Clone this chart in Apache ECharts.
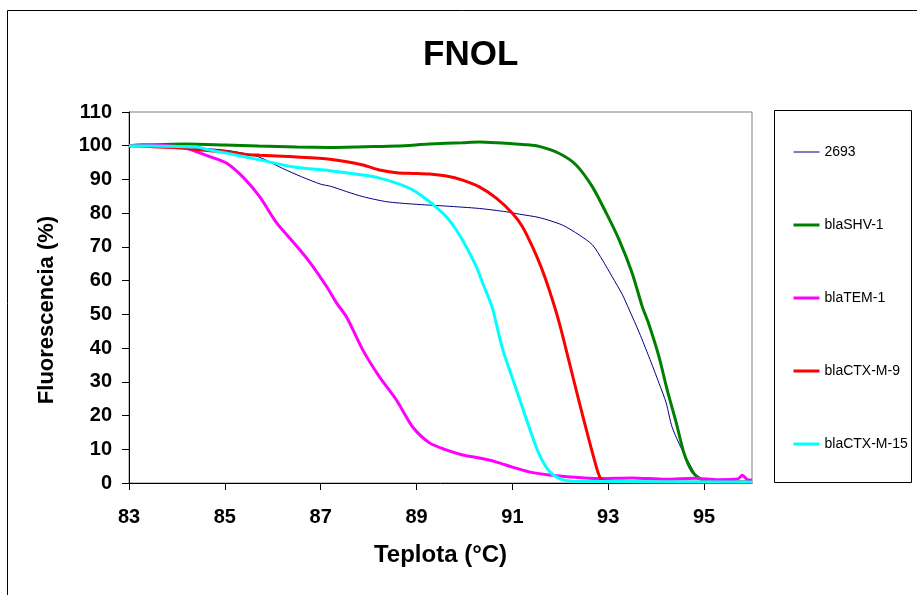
<!DOCTYPE html>
<html>
<head>
<meta charset="utf-8">
<script src="https://cdn.jsdelivr.net/npm/echarts@6/dist/echarts.min.js"></script>
<style>
  html, body { margin: 0; padding: 0; background: #ffffff; }
  #chart { width: 917px; height: 595px; }
</style>
</head>
<body>
<div id="chart"></div>
<script>
// Melting curves: fluorescence (%) versus temperature (°C)
const seriesNames = ['2693', 'blaSHV-1', 'blaTEM-1', 'blaCTX-M-9', 'blaCTX-M-15'];
const xTickValues = [83, 85, 87, 89, 91, 93, 95];

const temp2693 = [83.0, 84.0, 85.0, 85.7, 86.2, 86.6, 87.0, 87.2, 87.54, 87.88, 88.38, 88.92, 89.62, 90.31, 90.88, 91.15, 91.56, 92.04, 92.4, 92.67, 92.88, 93.08, 93.29, 93.44, 93.65, 93.85, 94.06, 94.21, 94.33, 94.54, 94.73, 94.85, 95.0, 96.0];
const fluo2693 = [100, 99.5, 98.7, 96.7, 93.3, 90.8, 88.6, 88.0, 86.4, 84.9, 83.4, 82.7, 82.1, 81.4, 80.4, 79.7, 78.7, 76.5, 73.5, 70.6, 66.1, 61.2, 56.0, 51.3, 44.5, 37.4, 29.6, 23.7, 16.7, 9.8, 4.8, 1.9, 0.3, 0.2];

const tempShv = [83.0, 84.2, 85.0, 85.7, 86.5, 87.2, 87.9, 88.6, 89.27, 89.96, 90.31, 90.67, 91.0, 91.3, 91.56, 91.98, 92.33, 92.67, 92.96, 93.23, 93.5, 93.71, 93.85, 94.06, 94.23, 94.42, 94.58, 94.75, 94.9, 95.1, 96.0];
const fluoShv = [100, 100.5, 100.2, 99.9, 99.6, 99.5, 99.7, 99.9, 100.5, 100.9, 101.1, 100.9, 100.6, 100.3, 99.8, 97.7, 94.3, 87.8, 80.0, 72.0, 62.2, 52.3, 47.0, 37.4, 27.6, 17.8, 8.9, 3.4, 1.5, 0.4, 0.3];

const tempTem = [83.0, 83.3, 84.0, 84.2, 84.7, 85.04, 85.4, 85.73, 86.08, 86.44, 86.77, 87.13, 87.33, 87.54, 87.88, 88.23, 88.58, 88.92, 89.27, 89.62, 89.96, 90.31, 90.67, 91.0, 91.35, 91.77, 92.2, 92.8, 93.5, 94.2, 94.8, 95.3, 95.7, 95.8, 95.9, 96.0];
const fluoTem = [100, 100.3, 99.8, 99.2, 96.7, 94.8, 90.4, 84.8, 77.1, 71.2, 65.5, 58.1, 53.4, 49.2, 39.4, 31.4, 24.6, 16.6, 11.9, 9.8, 8.3, 7.4, 6.2, 4.7, 3.3, 2.4, 1.8, 1.3, 1.5, 1.1, 1.4, 1.0, 1.2, 2.3, 1.0, 0.8];

const tempCtx9 = [83.0, 84.0, 84.69, 85.04, 85.4, 85.73, 86.44, 87.19, 87.88, 88.23, 88.58, 88.92, 89.27, 89.62, 89.96, 90.31, 90.67, 91.0, 91.21, 91.42, 91.6, 91.77, 91.98, 92.19, 92.4, 92.6, 92.77, 92.85, 93.0, 96.0];
const fluoCtx9 = [100, 99.4, 98.5, 98.2, 97.5, 97.2, 96.7, 96.0, 94.3, 92.8, 92.0, 91.8, 91.6, 91.0, 89.8, 87.8, 84.4, 80.0, 76.0, 70.0, 64.0, 57.2, 47.4, 35.6, 23.7, 12.7, 3.9, 1.2, 0.3, 0.2];

const tempCtx15 = [83.0, 84.4, 84.69, 85.04, 85.73, 86.44, 87.19, 87.88, 88.23, 88.58, 88.92, 89.27, 89.48, 89.62, 89.83, 90.04, 90.25, 90.38, 90.58, 90.79, 91.1, 91.35, 91.56, 91.77, 92.0, 92.3, 96.0];
const fluoCtx15 = [100, 99.6, 98.7, 97.8, 95.8, 93.7, 92.6, 91.3, 90.4, 88.9, 86.9, 83.4, 80.9, 79.0, 75.0, 70.0, 64.1, 59.3, 52.0, 40.0, 27.0, 16.5, 8.5, 3.5, 1.2, 0.5, 0.3];

const seriesColors = ['#000080', '#008000', '#ff00ff', '#ff0000', '#00ffff'];
const seriesWidths = [1, 3, 3, 3, 3];

function pairs(xs, ys) {
  return xs.map((x, i) => [x, ys[i]]);
}

const seriesData = [
  pairs(temp2693, fluo2693),
  pairs(tempShv, fluoShv),
  pairs(tempTem, fluoTem),
  pairs(tempCtx9, fluoCtx9),
  pairs(tempCtx15, fluoCtx15)
];

const FONT = '"Liberation Sans", Arial, sans-serif';

const chart = echarts.init(document.getElementById('chart'), null, { renderer: 'canvas' });

chart.setOption({
  animation: false,
  backgroundColor: '#ffffff',
  title: {
    text: 'FNOL',
    left: 418,
    top: 33,
    textStyle: { fontFamily: FONT, fontWeight: 'bold', fontSize: 35, color: '#000' }
  },
  grid: {
    left: 129, right: 165, top: 112, bottom: 112,
    show: true, borderColor: '#808080', borderWidth: 1, backgroundColor: '#fff'
  },
  legend: {
    orient: 'vertical',
    left: 787,
    top: 140,
    itemWidth: 26,
    itemHeight: 14,
    itemGap: 59,
    data: seriesNames.map((name, i) => ({
      name: name,
      lineStyle: { color: seriesColors[i], width: seriesWidths[i] }
    })),
    // line-only keys: hide the marker dot drawn on the key line
    itemStyle: { opacity: 0 },
    textStyle: { fontFamily: FONT, fontSize: 14, color: '#000' }
  },
  xAxis: {
    type: 'value',
    min: 83,
    max: 96,
    name: 'Teplota (°C)',
    nameLocation: 'middle',
    nameGap: 60,
    nameTextStyle: { fontFamily: FONT, fontWeight: 'bold', fontSize: 24, color: '#000' },
    axisLine: { onZero: false, lineStyle: { color: '#000', width: 1 } },
    axisTick: { show: true, customValues: xTickValues, length: 7, lineStyle: { color: '#000' } },
    axisLabel: { customValues: xTickValues, margin: 24, fontFamily: FONT, fontWeight: 'bold', fontSize: 20, color: '#000' },
    splitLine: { show: false }
  },
  yAxis: {
    type: 'value',
    min: 0,
    max: 110,
    interval: 10,
    axisLine: { show: true, lineStyle: { color: '#000', width: 1 } },
    axisTick: { show: true, length: 7, lineStyle: { color: '#000' } },
    axisLabel: { margin: 17, fontFamily: FONT, fontWeight: 'bold', fontSize: 20, color: '#000' },
    splitLine: { show: false }
  },
  graphic: [
    {
      type: 'rect',
      shape: { x: 7.5, y: 10.5, width: 940, height: 620 },
      style: { fill: null, stroke: '#000', lineWidth: 1 },
      silent: true, z: -1
    },
    {
      type: 'rect',
      shape: { x: 774.5, y: 110.5, width: 137, height: 372 },
      style: { fill: null, stroke: '#000', lineWidth: 1 },
      silent: true
    },
    {
      type: 'text',
      x: 47,
      y: 310,
      rotation: Math.PI / 2,
      style: {
        text: 'Fluorescencia (%)',
        font: 'bold 22px ' + FONT,
        fill: '#000',
        textAlign: 'center',
        textVerticalAlign: 'middle'
      }
    }
  ],
  series: seriesNames.map((name, i) => ({
    name: name,
    type: 'line',
    data: seriesData[i],
    showSymbol: false,
    symbol: 'none',
    smooth: 0.25,
    color: seriesColors[i],
    lineStyle: { color: seriesColors[i], width: seriesWidths[i] },
    z: 2 + i
  }))
});
</script>
</body>
</html>
